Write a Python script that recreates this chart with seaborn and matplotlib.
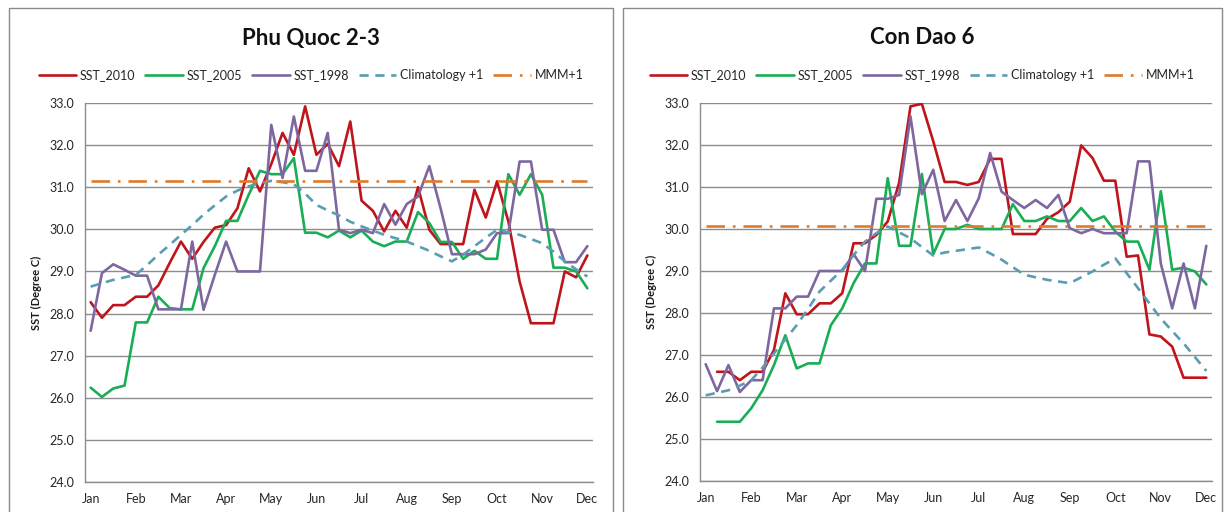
import numpy as np
import matplotlib
matplotlib.use("Agg")
import matplotlib.pyplot as plt
from matplotlib.patches import Rectangle
import seaborn as sns

# weekly points, month label every 4th point
weeks = list(range(45))
month_labels = ["Jan", "Feb", "Mar", "Apr", "May", "Jun", "Jul", "Aug", "Sep", "Oct", "Nov", "Dec"]
month_pos = list(range(0, 45, 4))

# Phu Quoc 2-3
pq_2010 = [28.27, 27.9, 28.2, 28.2, 28.4, 28.4, 28.67, 29.2, 29.71, 29.3, 29.7, 30.04, 30.1, 30.5,
           31.45, 30.9, 31.55, 32.29, 31.77, 32.92, 31.77, 32.03, 31.5, 32.56, 30.68, 30.44, 29.95,
           30.44, 30.04, 31.0, 29.99, 29.65, 29.65, 29.65, 30.94, 30.28, 31.14, 30.19, 28.76, 27.77,
           27.77, 27.77, 29.0, 28.86, 29.38]
pq_2005 = [26.24, 26.02, 26.22, 26.29, 27.79, 27.79, 28.4, 28.13, 28.1, 28.1, 29.08, 29.6, 30.2, 30.2,
           30.82, 31.39, 31.31, 31.31, 31.69, 29.92, 29.92, 29.81, 29.97, 29.81, 29.97, 29.71, 29.6,
           29.71, 29.71, 30.41, 30.15, 29.7, 29.7, 29.3, 29.49, 29.3, 29.3, 31.31, 30.82, 31.31, 30.82,
           29.09, 29.09, 29.0, 28.6]
pq_1998 = [27.59, 28.96, 29.17, 29.04, 28.9, 28.9, 28.1, 28.1, 28.1, 29.71, 28.09, 28.92, 29.71, 29.0,
           29.0, 29.0, 32.48, 31.22, 32.68, 31.39, 31.39, 32.29, 29.99, 29.91, 29.99, 29.91, 30.6, 30.11,
           30.6, 30.78, 31.5, 30.5, 29.41, 29.41, 29.41, 29.52, 29.91, 29.91, 31.61, 31.61, 29.99, 29.99,
           29.22, 29.22, 29.6]
pq_clim = [28.64, 28.72, 28.8, 28.86, 28.92, 29.15, 29.4, 29.63, 29.87, 30.1, 30.35, 30.57, 30.78, 30.92,
           31.02, 31.1, 31.15, 31.12, 31.07, 30.85, 30.58, 30.45, 30.33, 30.18, 30.07, 29.97, 29.87, 29.79,
           29.71, 29.6, 29.49, 29.36, 29.24, 29.4, 29.6, 29.8, 29.99, 29.93, 29.87, 29.77, 29.67, 29.47,
           29.24, 29.05, 28.88]
pq_mmm = 31.15

# Con Dao 6
cd_2010 = [np.nan, 26.6, 26.6, 26.4, 26.6, 26.6, 27.12, 28.47, 27.97, 27.97, 28.23, 28.23, 28.47, 29.66,
           29.66, 29.86, 30.18, 31.1, 32.92, 32.98, 32.09, 31.12, 31.12, 31.05, 31.12, 31.67, 31.67,
           29.88, 29.88, 29.88, 30.24, 30.4, 30.65, 31.99, 31.69, 31.15, 31.15, 29.34, 29.37, 27.49,
           27.44, 27.2, 26.46, 26.46, 26.46]
cd_2005 = [np.nan, 25.41, 25.41, 25.41, 25.73, 26.16, 26.76, 27.47, 26.68, 26.8, 26.8, 27.71, 28.11, 28.71,
           29.18, 29.18, 31.21, 29.6, 29.6, 31.31, 29.4, 30.0, 30.0, 30.1, 30.0, 30.0, 30.0, 30.59, 30.19,
           30.19, 30.3, 30.19, 30.19, 30.5, 30.19, 30.3, 29.94, 29.7, 29.7, 29.03, 30.9, 29.03, 29.08,
           28.99, 28.68]
cd_1998 = [26.78, 26.14, 26.76, 26.12, 26.4, 26.4, 28.11, 28.11, 28.39, 28.39, 29.0, 29.0, 29.0, 29.4,
           29.0, 30.72, 30.72, 30.81, 32.68, 30.83, 31.41, 30.19, 30.69, 30.19, 30.73, 31.81, 30.89, 30.69,
           30.5, 30.69, 30.5, 30.81, 30.02, 29.9, 30.0, 29.9, 29.9, 29.9, 31.61, 31.61, 29.18, 28.11, 29.18,
           28.11, 29.6]
cd_clim = [26.04, 26.1, 26.16, 26.27, 26.4, 26.7, 27.04, 27.37, 27.71, 28.1, 28.51, 28.77, 29.03, 29.38,
           29.7, 29.9, 30.06, 29.92, 29.78, 29.57, 29.37, 29.44, 29.48, 29.52, 29.56, 29.42, 29.27, 29.09,
           28.91, 28.85, 28.79, 28.75, 28.71, 28.85, 28.99, 29.15, 29.3, 28.95, 28.59, 28.23, 27.87, 27.57,
           27.28, 26.95, 26.62]
cd_mmm = 30.08

C_2010 = "#C0141B"
C_2005 = "#19AE55"
C_1998 = "#7E67A0"
C_CLIM = "#5A9DB2"
C_MMM = "#E07B2C"

sns.set_style("white")
plt.rcParams["font.family"] = ["Lato", "DejaVu Sans"]

W, H = 1224, 512
fig = plt.figure(figsize=(W / 100, H / 100), dpi=100)


def draw_panel(rect, frame, title, title_x, s2010, s2005, s1998, clim, mmm):
    x0, y0, x1, y1 = rect
    ax = fig.add_axes([x0 / W, 1 - y1 / H, (x1 - x0) / W, (y1 - y0) / H])
    fx0, fx1 = frame
    fig.add_artist(Rectangle((fx0 / W, -0.05), (fx1 - fx0) / W, 1.05 - 8 / H,
                             transform=fig.transFigure, fill=False, edgecolor="#8a8a8a", lw=1))
    lw = 1.9
    sns.lineplot(x=weeks, y=s2010, ax=ax, color=C_2010, lw=lw, label="SST_2010")
    sns.lineplot(x=weeks, y=s2005, ax=ax, color=C_2005, lw=lw, label="SST_2005")
    sns.lineplot(x=weeks, y=s1998, ax=ax, color=C_1998, lw=lw, label="SST_1998")
    sns.lineplot(x=weeks, y=clim, ax=ax, color=C_CLIM, lw=lw, dashes=False, label="Climatology +1")
    ax.lines[-1].set_dashes((3.5, 2.5))
    ax.plot([weeks[0], weeks[-1]], [mmm, mmm], color=C_MMM, lw=lw, label="MMM+1",
            dashes=(7, 3, 1, 3))
    ax.set_xlim(-0.5, 44.5)
    ax.set_ylim(24, 33)
    ax.set_yticks(np.arange(24, 33.1, 1))
    ax.set_yticklabels([f"{v:.1f}" for v in np.arange(24, 33.1, 1)])
    ax.set_xticks(month_pos)
    ax.set_xticklabels(month_labels)
    ax.grid(axis="y", color="#8c8c8c", lw=1)
    ax.set_axisbelow(True)
    ax.tick_params(length=0, labelsize=9, colors="#262626")
    ax.tick_params(axis="y", pad=8)
    ax.tick_params(axis="x", pad=8)
    for s in ["top", "right"]:
        ax.spines[s].set_visible(False)
    for s in ["left", "bottom"]:
        ax.spines[s].set_color("#8c8c8c")
        ax.spines[s].set_linewidth(1)
    ax.set_xlabel("")
    ax.set_ylabel("SST (Degree C)", fontsize=8, fontweight="bold", labelpad=5, color="#1a1a1a")
    fig.text(title_x / W, 1 - 38 / H, title, ha="center", va="center", fontsize=16,
             fontweight="bold", color="#111111")
    handles, labels = ax.get_legend_handles_labels()
    ax.legend(handles, labels, loc="center", bbox_to_anchor=(title_x / W, 1 - 75 / H),
              bbox_transform=fig.transFigure, ncol=5, frameon=False, fontsize=9,
              handlelength=3.0, handletextpad=0.3, columnspacing=0.8, labelcolor="#262626")
    return ax


draw_panel((85, 103, 593, 482), (9, 613), "Phu Quoc 2-3", 311,
           pq_2010, pq_2005, pq_1998, pq_clim, pq_mmm)
draw_panel((700, 103, 1212, 481), (623, 1222), "Con Dao 6", 922,
           cd_2010, cd_2005, cd_1998, cd_clim, cd_mmm)

fig.savefig("out.png", dpi=100)
